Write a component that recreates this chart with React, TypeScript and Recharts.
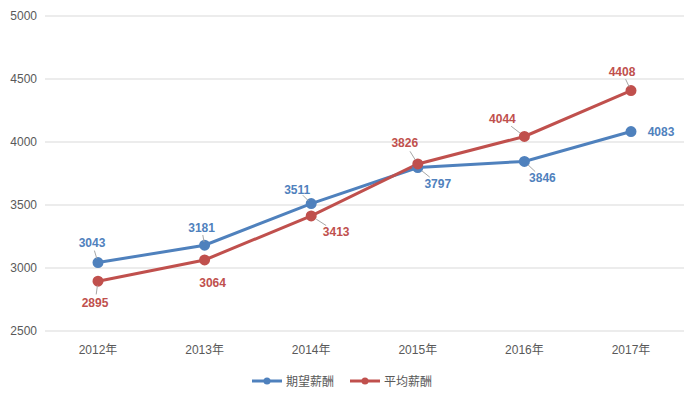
import React from "react"
import { CartesianGrid, LabelList, Legend, Line, LineChart, XAxis, YAxis } from "recharts"

const years = ["2012年", "2013年", "2014年", "2015年", "2016年", "2017年"]
const expected = [3043, 3181, 3511, 3797, 3846, 4083]
const average = [2895, 3064, 3413, 3826, 4044, 4408]
const yTicks = [2500, 3000, 3500, 4000, 4500, 5000]

// label placement (offset from point) and whether a leader line is drawn
const expectedOffsets = [[-6, -20], [-3, -17], [-14, -14], [20, 16], [18, 17], [30, 0]]
const averageOffsets = [[-3, 22], [8, 23], [25, 16], [-13, -21], [-22, -17], [-9, -19]]
const expectedLeader = [true, true, true, true, true, false]
const averageLeader = [true, false, true, true, true, true]

const data = years.map((year, i) => ({
  year,
  expected: expected[i],
  average: average[i],
}))

const FONT = "'Liberation Sans', 'Noto Sans CJK SC', sans-serif"
const BLUE = "#4f81bd"
const RED = "#c0504d"

function makeLabel(color: string, offsets: number[][], leaders: boolean[]) {
  return (props: any) => {
    const { x, y, value, index } = props
    const [dx, dy] = offsets[index]
    return (
      <g>
        {leaders[index] && (
          <line
            x1={x + dx * 0.2}
            y1={y + dy * 0.2}
            x2={x + dx * 0.6}
            y2={y + dy * 0.6}
            stroke="#a6a6a6"
            strokeWidth={1}
          />
        )}
        <text
          x={x + dx}
          y={y + dy}
          textAnchor="middle"
          dominantBaseline="central"
          fill={color}
          fontSize={12}
          fontWeight="bold"
          fontFamily={FONT}
        >
          {value}
        </text>
      </g>
    )
  }
}

function LegendContent() {
  const items = [
    { name: "期望薪酬", color: BLUE },
    { name: "平均薪酬", color: RED },
  ]
  return (
    <div style={{ display: "flex", justifyContent: "center", gap: 16, marginTop: 11, fontFamily: FONT, fontSize: 12, color: "#595959" }}>
      {items.map((it) => (
        <div key={it.name} style={{ display: "flex", alignItems: "center", gap: 4 }}>
          <svg width={30} height={10}>
            <line x1={0} y1={5} x2={30} y2={5} stroke={it.color} strokeWidth={3} />
            <circle cx={15} cy={5} r={3.5} fill={it.color} />
          </svg>
          <span>{it.name}</span>
        </div>
      ))}
    </div>
  )
}

export default function App() {
  return (
    <div style={{ position: "absolute", left: 0, top: 0, background: "#fff" }}>
      <LineChart width={692} height={398} data={data} margin={{ top: 16, right: 8, left: 0, bottom: 0 }}>
        <CartesianGrid vertical={false} stroke="#d9d9d9" />
        <XAxis
          dataKey="year"
          axisLine={false}
          tickLine={false}
          tickMargin={8}
          height={30}
          padding={{ left: 53, right: 53 }}
          tick={{ fill: "#595959", fontSize: 12, fontFamily: FONT }}
        />
        <YAxis
          width={45}
          domain={[2500, 5000]}
          ticks={yTicks}
          axisLine={false}
          tickLine={false}
          tick={{ fill: "#595959", fontSize: 12, fontFamily: FONT }}
        />
        <Legend verticalAlign="bottom" height={37} content={<LegendContent />} />
        <Line
          dataKey="expected"
          name="期望薪酬"
          stroke={BLUE}
          strokeWidth={3}
          dot={{ r: 4, fill: BLUE, stroke: BLUE }}
          isAnimationActive={false}
        >
          <LabelList dataKey="expected" content={makeLabel(BLUE, expectedOffsets, expectedLeader)} />
        </Line>
        <Line
          dataKey="average"
          name="平均薪酬"
          stroke={RED}
          strokeWidth={3}
          dot={{ r: 4, fill: RED, stroke: RED }}
          isAnimationActive={false}
        >
          <LabelList dataKey="average" content={makeLabel(RED, averageOffsets, averageLeader)} />
        </Line>
      </LineChart>
    </div>
  )
}
